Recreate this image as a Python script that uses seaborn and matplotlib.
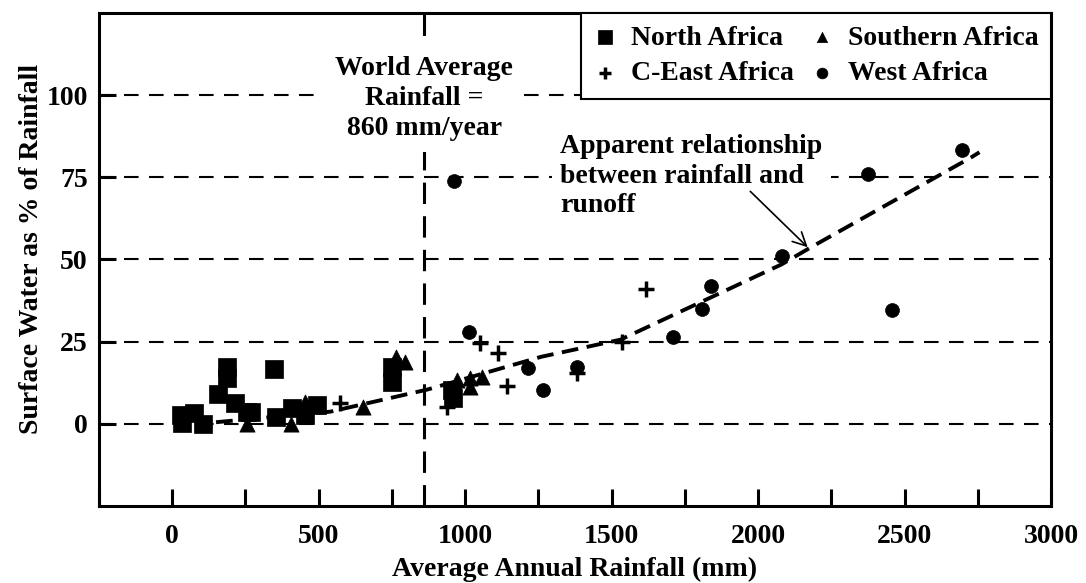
import numpy as np
import pandas as pd
import seaborn as sns
import matplotlib.pyplot as plt
from matplotlib.ticker import MultipleLocator

# data
north_x = [31, 34, 75, 106, 157, 188, 188, 215, 256, 270, 348, 354, 410, 454, 494, 751, 751, 956, 959]
north_y = [2.7, 0.3, 3.4, 0, 9.1, 17.4, 14.0, 6.4, 3.7, 3.7, 16.8, 2.2, 4.9, 2.7, 5.8, 17.4, 12.8, 10.4, 7.9]

southern_x = [256, 406, 454, 652, 765, 795, 972, 1017, 1017, 1058]
southern_y = [0, 0, 6.7, 5.2, 20.4, 18.9, 13.4, 11.3, 14.0, 14.3]

ceast_x = [573, 939, 1051, 1113, 1143, 1382, 1536, 1618]
ceast_y = [6.4, 5.2, 24.7, 21.6, 11.6, 15.5, 25.0, 41.0]

west_x = [962, 1014, 1215, 1266, 1382, 1710, 1809, 1840, 2082, 2375, 2457, 2696]
west_y = [73.8, 28.0, 17.0, 10.4, 17.4, 26.5, 34.8, 42.0, 51.0, 75.9, 34.5, 83.2]

trend_x = [150, 540, 870, 1260, 1530, 2080, 2180, 2726, 2755]
trend_y = [0.5, 3.7, 10.4, 20.4, 25.6, 48.5, 53.7, 81.0, 82.6]

world_avg = 860

sns.set_style('ticks')
plt.rcParams['font.family'] = ['Liberation Serif', 'DejaVu Serif']
plt.rcParams['font.weight'] = 'bold'
plt.rcParams['font.size'] = 20
for key in ['text.color', 'axes.labelcolor', 'xtick.color', 'ytick.color', 'axes.edgecolor']:
    plt.rcParams[key] = 'black'

fig, ax = plt.subplots(figsize=(10.86, 5.83), dpi=100)
fig.subplots_adjust(left=0.091, right=0.968, bottom=0.132, top=0.978)

# horizontal grid
for yv in [0, 25, 50, 75, 100]:
    ax.axhline(yv, color='black', lw=1.5, ls=(0, (7, 5)), zorder=1)

# world average line
ax.axvline(world_avg, color='black', lw=2.2, ls=(0, (7, 4)), zorder=1)

# trend line
sns.lineplot(x=trend_x, y=trend_y, ax=ax, color='black', lw=2.8, zorder=3)
ax.lines[-1].set_linestyle((0, (4.3, 2.2)))

groups = [
    ('North Africa', north_x, north_y, 's', 175, 110),
    ('C-East Africa', ceast_x, ceast_y, '+', 120, 85),
    ('Southern Africa', southern_x, southern_y, '^', 120, 55),
    ('West Africa', west_x, west_y, 'o', 100, 60),
]
for name, xs, ys, mk, sz, _ in groups:
    df = pd.DataFrame({'rain': xs, 'pct': ys})
    if mk == '+':
        sns.scatterplot(data=df, x='rain', y='pct', ax=ax, marker=mk, s=sz,
                        color='black', linewidth=2.5, label=name, zorder=4)
    else:
        sns.scatterplot(data=df, x='rain', y='pct', ax=ax, marker=mk, s=sz,
                        color='black', edgecolor='black', linewidth=0.5,
                        label=name, zorder=4)

ax.set_xlim(-250, 3000)
ax.set_ylim(-25, 125)
ax.xaxis.set_minor_locator(MultipleLocator(250))
ax.set_xticks([0, 500, 1000, 1500, 2000, 2500, 3000])
ax.set_yticks([0, 25, 50, 75, 100])
ax.tick_params(axis='both', which='both', direction='in', length=12, width=2.2,
               labelsize=20)
ax.tick_params(axis='x', which='both', pad=13)
ax.tick_params(axis='y', pad=8)
for sp in ax.spines.values():
    sp.set_linewidth(2.2)
    sp.set_color('black')

ax.set_xlabel('Average Annual Rainfall (mm)', fontsize=20, fontweight='bold')
ax.set_ylabel('Surface Water as % of Rainfall', fontsize=20, fontweight='bold')
ax.xaxis.set_label_coords(0.5, -0.104)
ax.yaxis.set_label_coords(-0.058, 0.522)

ax.text(world_avg, 99, 'World Average\nRainfall =\n860 mm/year', ha='center', va='center',
        fontsize=20, fontweight='bold', linespacing=1.25, zorder=5,
        bbox=dict(boxstyle='square,pad=0.4', fc='white', ec='none'))

ax.text(1325, 88, 'Apparent relationship\nbetween rainfall and\nrunoff', ha='left', va='top',
        fontsize=20, fontweight='bold', linespacing=1.22, zorder=5,
        bbox=dict(boxstyle='square,pad=0.3', fc='white', ec='none'))
ax.annotate('', xy=(2169, 53.7), xytext=(1973, 70.7),
            arrowprops=dict(arrowstyle='->', color='black', lw=1.2, mutation_scale=24,
                            shrinkA=0, shrinkB=0), zorder=6)

leg = ax.legend(ncol=2, loc='upper right', bbox_to_anchor=(1.0, 1.0), borderaxespad=0,
                fancybox=False, frameon=True, edgecolor='black', fontsize=20,
                handletextpad=0.55, columnspacing=0.6, handlelength=0.8,
                borderpad=0.45, labelspacing=0.36)
leg.get_frame().set_linewidth(1.5)
leg.get_frame().set_alpha(1)
leg.set_zorder(7)
for h, g in zip(leg.legend_handles, groups):
    h.set_sizes([g[5]])

fig.savefig('out.png', dpi=100)
